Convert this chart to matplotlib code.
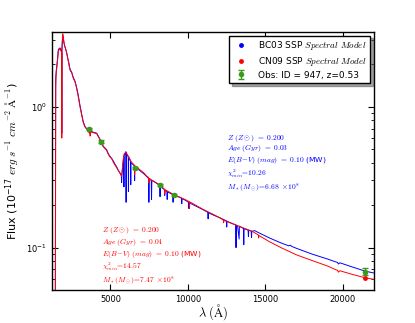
"""SED fit of object 947: BC03 vs CN09 SSP spectral models against observed photometry."""

import matplotlib

matplotlib.use("Agg")
import matplotlib.pyplot as plt

plt.rcParams["mathtext.fontset"] = "cm"
plt.rcParams["font.family"] = "DejaVu Sans"

# BC03 SSP spectrum (blue)
bc03_wl = [
    1250, 1440, 1470, 1500, 1540, 1600, 1640, 1700, 1750, 1800,
    1840, 1855, 1862, 1870, 1890, 1925, 1960, 2000, 2050, 2100,
    2180, 2250, 2300, 2394, 2450, 2500, 2600, 2716, 2800, 2900,
    3037, 3150, 3250, 3350, 3450, 3508, 3600, 3660, 3690, 3720,
    3800, 3900, 4000, 4112, 4250, 4389, 4537, 4650, 4755, 4860,
    4968, 5077, 5200, 5300, 5400, 5500, 5600, 5700, 5720, 5740,
    5800, 5850, 5870, 5890, 5950, 6000, 6010, 6020, 6100, 6150,
    6160, 6170, 6250, 6300, 6310, 6320, 6450, 6550, 6560, 6570,
    6686, 6800, 7000, 7150, 7330, 7460, 7480, 7500, 7630, 7650,
    7670, 7800, 8000, 8185, 8200, 8210, 8350, 8490, 8500, 8510,
    8650, 8660, 8670, 8800, 9020, 9040, 9060, 9200, 9363, 9580,
    9600, 9620, 9800, 10030, 10050, 10070, 10400, 10970, 11280, 11300,
    11320, 11600, 12046, 12480, 12500, 12520, 12800, 13011, 13080, 13100,
    13120, 13200, 13300, 13320, 13450, 13580, 13600, 13620, 13750, 13880,
    13900, 13920, 14080, 14100, 14120, 14170, 14300, 14600, 15264, 16000,
    16500, 16600, 16700, 16982, 18000, 19000, 19556, 19650, 19700, 19800,
    20500, 21440, 22000,
]
bc03_flux = [
    0.03, 0.04, 1.6, 1.8, 1.95, 2.3, 2.55, 2.6, 2.62, 2.55,
    2.5, 2.4, 0.65, 2.5, 2.8, 3.2, 3.05, 2.85, 2.7, 2.6,
    2.42, 2.2, 2.1, 1.85, 1.8, 1.76, 1.62, 1.52, 1.4, 1.25,
    1.02, 0.88, 0.78, 0.73, 0.70, 0.69, 0.70, 0.70, 0.64, 0.67,
    0.665, 0.66, 0.655, 0.65, 0.61, 0.57, 0.525, 0.51, 0.495, 0.465,
    0.445, 0.43, 0.41, 0.39, 0.375, 0.355, 0.34, 0.33, 0.29, 0.33,
    0.38, 0.44, 0.27, 0.45, 0.47, 0.48, 0.21, 0.47, 0.45, 0.44,
    0.25, 0.43, 0.42, 0.41, 0.28, 0.40, 0.39, 0.38, 0.30, 0.375,
    0.37, 0.36, 0.345, 0.335, 0.32, 0.31, 0.21, 0.31, 0.30, 0.22,
    0.30, 0.295, 0.285, 0.275, 0.23, 0.272, 0.265, 0.258, 0.235, 0.256,
    0.25, 0.22, 0.248, 0.245, 0.238, 0.21, 0.236, 0.233, 0.23, 0.225,
    0.205, 0.223, 0.218, 0.21, 0.19, 0.209, 0.20, 0.186, 0.178, 0.16,
    0.177, 0.171, 0.163, 0.155, 0.14, 0.154, 0.149, 0.146, 0.145, 0.10,
    0.144, 0.143, 0.115, 0.142, 0.139, 0.137, 0.105, 0.136, 0.135, 0.133,
    0.12, 0.133, 0.131, 0.118, 0.131, 0.131, 0.132, 0.127, 0.117, 0.108,
    0.103, 0.104, 0.102, 0.099, 0.090, 0.083, 0.079, 0.0785, 0.0765, 0.078,
    0.0735, 0.068, 0.066,
]

# CN09 SSP spectrum (red)
cn09_wl = [
    1250, 1450, 1470, 1500, 1540, 1600, 1640, 1700, 1750, 1800,
    1840, 1855, 1862, 1870, 1890, 1925, 1960, 2000, 2050, 2100,
    2180, 2250, 2300, 2394, 2450, 2500, 2600, 2716, 2800, 2900,
    3037, 3150, 3250, 3350, 3450, 3508, 3600, 3660, 3690, 3720,
    3800, 3900, 4000, 4112, 4250, 4389, 4537, 4650, 4755, 4860,
    4968, 5077, 5200, 5300, 5400, 5500, 5600, 5720, 5800, 5870,
    5950, 6000, 6100, 6200, 6300, 6400, 6540, 6560, 6580, 6686,
    6800, 7000, 7150, 7330, 7460, 7480, 7500, 7700, 8000, 8185,
    8350, 8490, 8500, 8510, 8800, 9086, 9363, 9800, 10080, 10100,
    10120, 10400, 10970, 11600, 12046, 12280, 12300, 12320, 12800, 13011,
    13500, 14170, 14540, 14556, 14575, 15264, 16000, 16982, 18000, 19000,
    19556, 19650, 19700, 19800, 20500, 21440, 22000,
]
cn09_flux = [
    0.03, 0.04, 1.4, 1.7, 1.9, 2.2, 2.5, 2.55, 2.6, 2.5,
    2.45, 2.4, 0.60, 2.45, 2.9, 3.3, 3.1, 2.9, 2.7, 2.6,
    2.4, 2.2, 2.05, 1.82, 1.78, 1.75, 1.6, 1.5, 1.38, 1.22,
    1.0, 0.87, 0.77, 0.72, 0.70, 0.69, 0.69, 0.69, 0.62, 0.66,
    0.66, 0.655, 0.65, 0.645, 0.605, 0.565, 0.52, 0.505, 0.49, 0.46,
    0.44, 0.43, 0.40, 0.385, 0.37, 0.355, 0.34, 0.32, 0.40, 0.46,
    0.47, 0.475, 0.455, 0.44, 0.415, 0.40, 0.385, 0.33, 0.38, 0.375,
    0.365, 0.35, 0.34, 0.322, 0.315, 0.288, 0.31, 0.30, 0.287, 0.279,
    0.268, 0.26, 0.24, 0.258, 0.248, 0.238, 0.231, 0.22, 0.212, 0.19,
    0.211, 0.203, 0.187, 0.173, 0.163, 0.157, 0.15, 0.156, 0.149, 0.146,
    0.139, 0.130, 0.123, 0.117, 0.122, 0.110, 0.100, 0.089, 0.081, 0.074,
    0.0695, 0.069, 0.067, 0.0685, 0.065, 0.061, 0.0595,
]

# observed photometry and model-convolved photometry
obs_wl = [3636, 4389, 6577, 8185, 9086, 21440]
obs_flux = [0.70, 0.567, 0.368, 0.279, 0.237, 0.0676]
obs_err = [0.012, 0.010, 0.008, 0.006, 0.005, 0.004]
bc03_phot = [0.70, 0.567, 0.368, 0.278, 0.236, 0.067]
cn09_phot = [0.69, 0.560, 0.370, 0.279, 0.237, 0.0605]

bc03_text = [
    r"$Z\ (Z\odot)\ =\ 0.200$",
    r"$Age\ (Gyr)\ =\ 0.03$",
    r"$E(B\!-\!V)\ (mag)\ =\ 0.10$ (MW)",
    r"$\chi^2_{min}\!=\!10.26$",
    r"$M_*(M_\odot)\!=\!6.68\ \times\!10^8$",
]
cn09_text = [
    r"$Z\ (Z\odot)\ =\ 0.200$",
    r"$Age\ (Gyr)\ =\ 0.04$",
    r"$E(B\!-\!V)\ (mag)\ =\ 0.10$ (MW)",
    r"$\chi^2_{min}\!=\!14.57$",
    r"$M_*(M_\odot)\!=\!7.47\ \times\!10^8$",
]
# line offsets (px) of the annotation blocks
text_rows = [0, 11, 23, 35.5, 50]

fig = plt.figure(figsize=(4.15, 3.23), dpi=100)
ax = fig.add_axes([52 / 415, 33 / 323, 322 / 415, 258 / 323])

ax.plot(bc03_wl, bc03_flux, color="b", lw=0.7)
ax.plot(cn09_wl, cn09_flux, color="r", lw=0.7)
ax.plot(obs_wl, bc03_phot, "o", color="b", ms=3.5, mec="none",
        label=r"BC03 SSP $\mathit{Spectral\ Model}$")
ax.plot(obs_wl, cn09_phot, "o", color="r", ms=3.5, mec="none",
        label=r"CN09 SSP $\mathit{Spectral\ Model}$")
ax.errorbar(obs_wl, obs_flux, yerr=obs_err, fmt="o", color="#3a9a1a",
            ms=4, mec="none", elinewidth=1, capsize=2,
            label="Obs: ID = 947, z=0.53")

ax.set_yscale("log")
ax.set_xlim(1230, 22000)
ax.set_ylim(0.05, 3.4)
ax.set_xticks([5000, 10000, 15000, 20000])
ax.tick_params(which="both", direction="in", top=True, right=True, labelsize=6)
ax.tick_params(which="major", length=4)
ax.tick_params(which="minor", length=2)
for s in ax.spines.values():
    s.set_linewidth(1)

ax.set_xlabel(r"$\lambda\ (\mathrm{\AA})$", fontsize=9, labelpad=-1)
ax.set_ylabel(r"Flux ($\mathdefault{10^{-17}}\ erg\ s^{-1}\ cm^{-2}\ \mathrm{\AA}^{-1}$)",
              fontsize=8, labelpad=4)

leg = ax.legend(loc="upper right", fontsize=6.5, numpoints=1, shadow=True,
                fancybox=False, borderaxespad=0.4, handletextpad=0.8,
                labelspacing=0.3, borderpad=0.4)
leg.get_frame().set_edgecolor("black")

for dy, line in zip(text_rows, bc03_text):
    fig.text(227 / 415, 1 - (138 + dy) / 323, line, color="b",
             fontsize=5.4, va="center")
for dy, line in zip(text_rows, cn09_text):
    fig.text(102 / 415, 1 - (231 + dy) / 323, line, color="r",
             fontsize=5.4, va="center")

fig.savefig("out.png", dpi=100)
